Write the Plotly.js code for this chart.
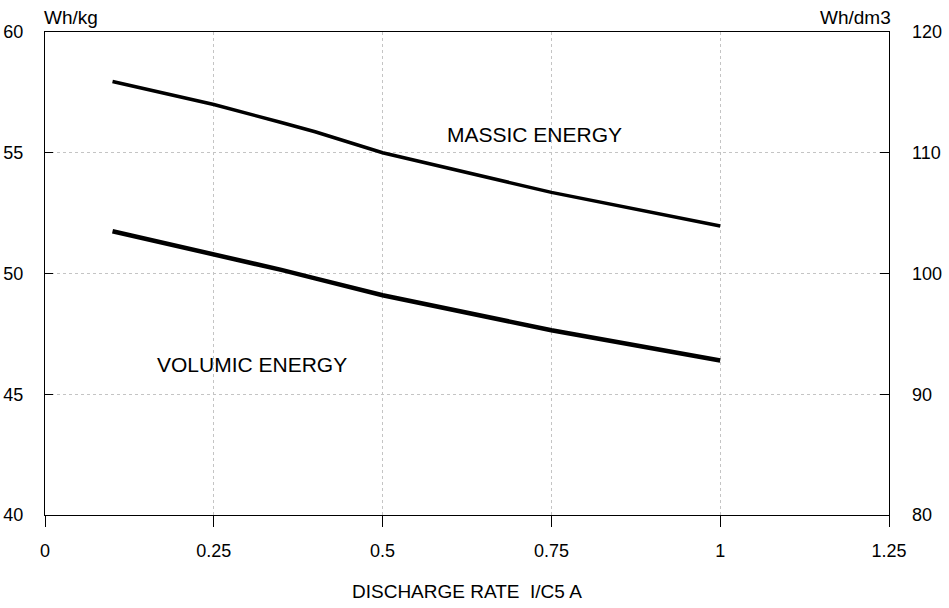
<!DOCTYPE html>
<html><head><meta charset="utf-8">
<script src="https://cdn.plot.ly/plotly-3.0.1.min.js"></script>
<style>html,body{margin:0;padding:0;background:#fff}#chart{width:949px;height:608px}</style>
</head><body><div id="chart"></div>
<script>
const rate = [0.1, 0.25, 0.35, 0.4, 0.5, 0.75, 1.0];
const massicEnergy = [57.95, 57.0, 56.25, 55.87, 55.0, 53.36, 51.97];    // Wh/kg (left axis)
const volumicEnergy = [103.5, 101.6, 100.3, 99.6, 98.2, 95.3, 92.8];     // Wh/dm3 (right axis)
const xTicks = [0, 0.25, 0.5, 0.75, 1, 1.25];
const xTickText = ["0", "0.25", "0.5", "0.75", "1", "1.25"];
const yLeftTicks = [40, 45, 50, 55, 60];
const yRightTicks = [80, 90, 100, 110, 120];

const fam = "Liberation Sans, Arial, Helvetica, sans-serif";
const tickFont = {family: fam, color: "#000", size: 18};

const traces = [
  {x: rate, y: massicEnergy, type: "scatter", mode: "lines", name: "Massic energy",
   line: {color: "#000", width: 3.5}, xaxis: "x", yaxis: "y"},
  {x: rate, y: volumicEnergy, type: "scatter", mode: "lines", name: "Volumic energy",
   line: {color: "#000", width: 4.5}, xaxis: "x", yaxis: "y2"}
];

const layout = {
  width: 949, height: 608,
  margin: {l: 45, r: 60, t: 32, b: 93},
  paper_bgcolor: "#fff", plot_bgcolor: "#fff",
  showlegend: false,
  font: {family: fam, color: "#000"},
  xaxis: {
    range: [0, 1.25], tickvals: xTicks, ticktext: xTickText,
    showline: true, mirror: true, linecolor: "#000", linewidth: 1,
    ticks: "outside", ticklen: 11, tickcolor: "#000",
    showgrid: true, gridcolor: "#c4c4c4", griddash: "dot", gridwidth: 1,
    zeroline: false, ticklabelstandoff: 8, tickfont: tickFont
  },
  xaxis2: {
    range: [0, 1.25], tickvals: xTicks, overlaying: "x", side: "bottom",
    showline: false, ticks: "inside", ticklen: 10, tickcolor: "#000",
    showticklabels: false, showgrid: false, zeroline: false
  },
  yaxis: {
    range: [40, 60], tickvals: yLeftTicks,
    showline: true, mirror: true, linecolor: "#000", linewidth: 1,
    ticks: "inside", ticklen: 8, tickcolor: "#000",
    showgrid: true, gridcolor: "#c4c4c4", griddash: "dot", gridwidth: 1,
    zeroline: false, ticklabelstandoff: 17, tickfont: tickFont
  },
  yaxis2: {
    range: [80, 120], tickvals: yRightTicks, overlaying: "y", side: "right",
    showline: false, ticks: "inside", ticklen: 9, tickcolor: "#000",
    showgrid: false, zeroline: false, ticklabelstandoff: 22, tickfont: tickFont
  },
  annotations: [
    {text: "Wh/kg", xref: "paper", yref: "paper", x: 0, y: 1, xanchor: "left", yanchor: "bottom",
     xshift: -3, yshift: 2, showarrow: false, font: {family: fam, color: "#000", size: 19}},
    {text: "Wh/dm3", xref: "paper", yref: "paper", x: 1, y: 1, xanchor: "right", yanchor: "bottom",
     xshift: 4, yshift: 2, showarrow: false, font: {family: fam, color: "#000", size: 19}},
    {text: "MASSIC ENERGY", xref: "x", yref: "y", x: 0.725, y: 55.75, xanchor: "center", yanchor: "middle",
     showarrow: false, font: {family: fam, color: "#000", size: 21}},
    {text: "VOLUMIC ENERGY", xref: "x", yref: "y", x: 0.306, y: 46.25, xanchor: "center", yanchor: "middle",
     showarrow: false, font: {family: fam, color: "#000", size: 21}},
    {text: "DISCHARGE RATE  I/C5 A", xref: "paper", yref: "paper", x: 0.5, y: 0, xanchor: "center", yanchor: "top",
     yshift: -64, showarrow: false, font: {family: fam, color: "#000", size: 19}}
  ]
};

Plotly.newPlot("chart", traces, layout, {staticPlot: true, displayModeBar: false});
</script>
</body></html>
